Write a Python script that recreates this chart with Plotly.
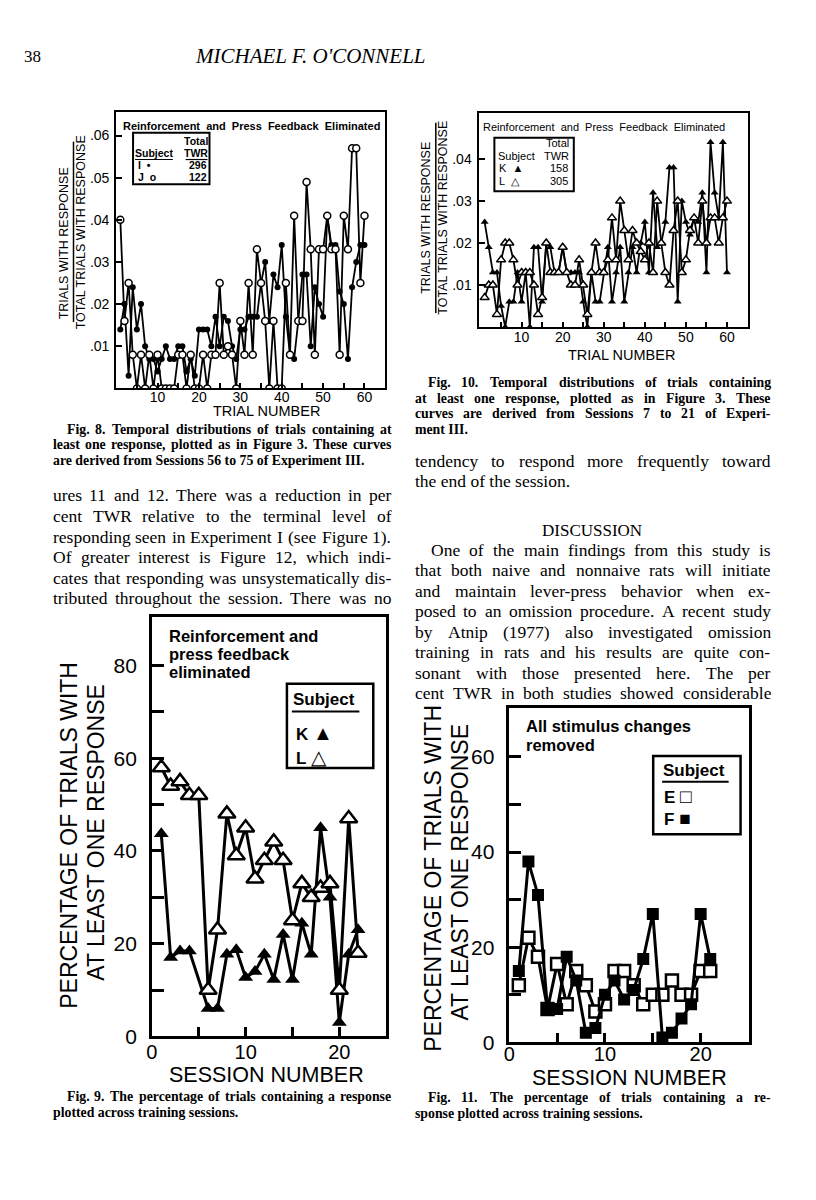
import plotly.graph_objects as go

W, H = 816, 1200
def X(px): return px / W
def Y(py): return 1 - py / H

# ---------------- data ----------------
trials = list(range(1, 61))
fig8_I = [.014, .020, .003, .024, .014, .020, .010, .007, .007, .004,
          .007, .010, .007, .007, .010, .010, .004, .007, .003, .014,
          .014, .014, .010, .017, .010, .017, .016, .010, .007, .014,
          .014, .017, .017, .017, .025, .030, .016, .027, .024, .034,
          .017, .008, .007, .016, .027, .027, .010, .024, .020, .017,
          .041, .034, .034, .023, .020, .007, .024, .030, .034, .034]
fig8_J = [.040, .016, .025, .008, 0, .008, 0, .008, 0, .008,
          0, 0, 0, 0, .008, .008, 0, .008, 0, 0,
          .008, 0, .008, .008, .025, .008, .010, .008, 0, .016,
          .008, .025, .008, .033, .025, .016, 0, .016, 0, 0,
          .025, .008, .041, .016, .016, .049, .033, .008, .033, .033,
          .041, .033, .033, .008, .041, .033, .057, .057, .025, .041]
fig10_K = [.025, .019, .013, .013, .005, 0, .006, .006, .013, .006,
           .013, 0, .019, .019, .006, .020, .019, .013, .013, .019,
           .013, .013, .013, .013, .006, 0, .013, .006, .006, .013,
           .019, .006, .013, .019, .006, .013, .019, .013, .020, .025,
           .013, .032, .019, .020, .025, .038, .038, .006, .030, .025,
           .022, .026, .025, .032, .013, .044, .032, .026, .044, .013]
fig10_L = [.007, .010, .010, .003, .016, .020, .020, .016, .010, .013,
           .013, .013, .010, .003, .007, .020, .013, .013, .013, .019,
           .013, .010, .010, .016, .010, .003, .013, .020, .013, .013,
           .016, .026, .016, .030, .023, .016, .023, .020, .018, .016,
           .020, .013, .030, .020, .013, .010, .023, .030, .013, .016,
           .023, .026, .020, .030, .020, .026, .026, .020, .026, .030]
trial_ticks = [5, 10, 15, 20, 25, 30, 35, 40, 45, 50, 55, 60]
trial_ticktext = ['', '10', '', '20', '', '30', '', '40', '', '50', '', '60']
fig8_yticks = [.01, .02, .03, .04, .05, .06]
fig8_yticktext = ['.01', '.02', '.03', '.04', '.05', '.06']
fig10_yticks = [.01, .02, .03, .04]
fig10_yticktext = ['.01', '.02', '.03', '.04']

sessions9 = list(range(1, 23))
fig9_K = [43.7, 17, 18.4, 18.4, None, 6, 6, 17.7, 18.7, 12.7, 14,
          17.7, 12.3, 22, 12.3, 24.4, 17.7, 45, 30, 3, 17.7, 23]
fig9_L = [58, 54, 55, 52, 52, 10, 23, 48, 39, 45, 34,
          38, 42, 38, 25, 33, 30, 32, 33, 10, 47, 18]
sessions11 = list(range(1, 22))
fig11_E = [12, 22, 18, 7, 16.5, 8, 15, 12, 6.5, 8, 15,
           15, 12, 8, 10, 10, 13, 10, 10, 15, 15]
fig11_F = [15, 38, 31, 7, 7, 18, 13, 2, 3, 10, 13,
           9, 11, 17.5, 27, 1, 2, 5, 8, 27, 17.5]
session_ticks = [0, 5, 10, 15, 20]
session_ticktext = ['0', '', '10', '', '20']
fig9_yticks = [0, 10, 20, 30, 40, 50, 60, 70, 80]
fig9_yticktext = ['0', '', '20', '', '40', '', '60', '', '80']
fig11_yticks = [0, 10, 20, 30, 40, 50, 60]
fig11_yticktext = ['0', '', '20', '', '40', '', '60']

SANS = "Liberation Sans"
SERIF = "Liberation Serif"

fig = go.Figure()

# Fig 8
fig.add_trace(go.Scatter(x=trials, y=fig8_I, mode='lines+markers', xaxis='x', yaxis='y',
                         line=dict(color='black', width=1.8),
                         marker=dict(symbol='circle', size=6, color='black')))
fig.add_trace(go.Scatter(x=trials, y=fig8_J, mode='lines+markers', xaxis='x', yaxis='y',
                         line=dict(color='black', width=1.8),
                         marker=dict(symbol='circle', size=7, color='white',
                                     line=dict(color='black', width=1.5))))
# Fig 10
fig.add_trace(go.Scatter(x=trials, y=fig10_K, mode='lines+markers', xaxis='x2', yaxis='y2',
                         line=dict(color='black', width=1.8),
                         marker=dict(symbol='triangle-up', size=7, color='black')))
fig.add_trace(go.Scatter(x=trials, y=fig10_L, mode='lines+markers', xaxis='x2', yaxis='y2',
                         line=dict(color='black', width=1.8),
                         marker=dict(symbol='triangle-up', size=8, color='white',
                                     line=dict(color='black', width=1.5))))
# Fig 9
fig.add_trace(go.Scatter(x=sessions9, y=fig9_K, mode='lines+markers', xaxis='x3', yaxis='y3',
                         connectgaps=True, line=dict(color='black', width=3),
                         marker=dict(symbol='triangle-up', size=13, color='black')))
fig.add_trace(go.Scatter(x=sessions9, y=fig9_L, mode='lines+markers', xaxis='x3', yaxis='y3',
                         line=dict(color='black', width=3),
                         marker=dict(symbol='triangle-up', size=15, color='white',
                                     line=dict(color='black', width=2.5))))
# Fig 11
fig.add_trace(go.Scatter(x=sessions11, y=fig11_E, mode='lines+markers', xaxis='x4', yaxis='y4',
                         line=dict(color='black', width=3),
                         marker=dict(symbol='square', size=12, color='white',
                                     line=dict(color='black', width=2.5))))
fig.add_trace(go.Scatter(x=sessions11, y=fig11_F, mode='lines+markers', xaxis='x4', yaxis='y4',
                         line=dict(color='black', width=3),
                         marker=dict(symbol='square', size=12, color='black')))

def xax(dom, rng, tv, tt, lw, tlen, fsize, anchor, standoff=0):
    return dict(domain=[X(dom[0]), X(dom[1])], range=rng, anchor=anchor,
                showgrid=False, zeroline=False, showline=True, mirror=True,
                linecolor='black', linewidth=lw, ticks='inside', ticklen=tlen,
                tickwidth=lw, tickcolor='black', tickvals=tv, ticktext=tt,
                ticklabelstandoff=standoff,
                tickfont=dict(family=SANS, size=fsize, color='black'))

def yax(dom, rng, tv, tt, lw, tlen, fsize, anchor, standoff=2):
    return dict(domain=[Y(dom[1]), Y(dom[0])], range=rng, anchor=anchor,
                showgrid=False, zeroline=False, showline=True, mirror=True,
                linecolor='black', linewidth=lw, ticks='inside', ticklen=tlen,
                tickwidth=lw, tickcolor='black', tickvals=tv, ticktext=tt,
                ticklabelstandoff=standoff,
                tickfont=dict(family=SANS, size=fsize, color='black'))

layout = dict(
    width=W, height=H, margin=dict(l=0, r=0, t=0, b=0),
    paper_bgcolor='white', plot_bgcolor='white', showlegend=False,
    xaxis=xax((111, 382), [0, 65], trial_ticks, trial_ticktext, 2, 5, 14, 'y', -5),
    yaxis=yax((113, 392), [0, 0.0656], fig8_yticks, fig8_yticktext, 2, 6, 14, 'x'),
    xaxis2=xax((476, 747), [-0.5, 65], trial_ticks, trial_ticktext, 2, 5, 14, 'y2', -4),
    yaxis2=yax((114, 330), [0, 0.051], fig10_yticks, fig10_yticktext, 2, 6, 14, 'x2'),
    xaxis3=xax((147, 383), [0, 25], session_ticks, session_ticktext, 2.5, 10, 20, 'y3', -4),
    yaxis3=yax((623, 1046), [0, 90.4], fig9_yticks, fig9_yticktext, 2.5, 12, 21, 'x3', 8),
    xaxis4=xax((507, 748), [0, 25], session_ticks, session_ticktext, 2.5, 10, 20, 'y4', -8),
    yaxis4=yax((715, 1052), [0, 70.2], fig11_yticks, fig11_yticktext, 2.5, 12, 21, 'x4', 8),
)
fig.update_layout(**layout)

ann = []
def T(x, y, s, size, family=SANS, xa='center', angle=0, color='black'):
    ann.append(dict(x=X(x), y=Y(y), xref='paper', yref='paper', text=s,
                    showarrow=False, xanchor=xa, yanchor='middle', textangle=angle,
                    borderpad=0, borderwidth=0,
                    font=dict(family=family, size=size, color=color)))

shapes = []
def RECT(x0, y0, x1, y1, w=2):
    shapes.append(dict(type='rect', xref='paper', yref='paper', x0=X(x0), x1=X(x1),
                       y0=Y(y1), y1=Y(y0), line=dict(color='black', width=w)))
def LINE(x0, y0, x1, y1, w=1.5):
    shapes.append(dict(type='line', xref='paper', yref='paper', x0=X(x0), x1=X(x1),
                       y0=Y(y0), y1=Y(y1), line=dict(color='black', width=w)))

# Times-compatible advance widths (per 1000 em) for justified serif text
REG = dict(zip("abcdefghijklmnopqrstuvwxyz",
               [444, 500, 444, 500, 444, 333, 500, 500, 278, 278, 500, 278, 778,
                500, 500, 500, 500, 333, 389, 278, 500, 500, 722, 500, 500, 444]))
REG.update(zip("ABCDEFGHIJKLMNOPQRSTUVWXYZ",
               [722, 667, 667, 722, 611, 556, 722, 722, 333, 389, 722, 611, 889,
                722, 722, 556, 722, 667, 556, 611, 722, 722, 944, 722, 722, 611]))
BLD = dict(zip("abcdefghijklmnopqrstuvwxyz",
               [500, 556, 444, 556, 444, 333, 500, 556, 278, 333, 556, 278, 833,
                556, 500, 556, 556, 444, 389, 333, 556, 500, 722, 500, 500, 444]))
BLD.update(zip("ABCDEFGHIJKLMNOPQRSTUVWXYZ",
               [722, 667, 722, 722, 667, 611, 778, 778, 389, 500, 778, 667, 944,
                722, 778, 611, 778, 722, 556, 667, 722, 722, 1000, 722, 722, 667]))
for d in (REG, BLD):
    d.update({c: 500 for c in "0123456789"})
    d.update({'.': 250, ',': 250, '-': 333, '(': 333, ')': 333, ':': 278, ';': 278, "'": 333})

def wwidth(word, size, bold):
    tb = BLD if bold else REG
    return sum(tb.get(c, 500) for c in word) * size / 1000.0

def JUST(x0, x1, y, line, size, bold=False, last=False):
    if last:
        s = "<b>%s</b>" % line if bold else line
        T(x0, y, s, size, SERIF, 'left')
        return
    words = line.split()
    ws = [wwidth(w, size, bold) for w in words]
    gap = (x1 - x0 - sum(ws)) / (len(words) - 1)
    x = x0
    for w, wd in zip(words, ws):
        s = "<b>%s</b>" % w if bold else w
        T(x, y, s, size, SERIF, 'left')
        x += wd + gap

# header
T(27, 57, "38", 17, SERIF)
T(307, 57, "<i>MICHAEL F. O'CONNELL</i>", 21, SERIF)

CAP = 13.8
BODY = 17.5

# ---- Fig 8 ----
T(247, 127, "<b>Reinforcement  and  Press  Feedback  Eliminated</b>", 11, SANS)
RECT(128, 134, 205, 186, 2)
T(203, 142, "<b>Total</b>", 10.5, SANS, 'right')
T(130, 154.5, "<b>Subject</b>", 10.5, SANS, 'left')
T(203, 154.5, "<b>TWR</b>", 10.5, SANS, 'right')
LINE(130, 161, 168, 161, 1.2)
LINE(181, 161, 203, 161, 1.2)
T(133, 167, "<b>I  •</b>", 10.5, SANS, 'left')
T(202, 167, "<b>296</b>", 10.5, SANS, 'right')
T(133, 179, "<b>J  o</b>", 10.5, SANS, 'left')
T(202, 179, "<b>122</b>", 10.5, SANS, 'right')
T(58, 246, "TRIALS WITH RESPONSE", 12.5, SANS, angle=-90)
LINE(68, 143, 68, 325, 1.5)
T(75, 234, "TOTAL TRIALS WITH RESPONSE", 12.5, SANS, angle=-90)
T(262, 415, "TRIAL NUMBER", 14.5, SANS)
JUST(61, 388, 433, "Fig. 8. Temporal distributions of trials containing at", CAP, True)
JUST(47, 388, 449, "least one response, plotted as in Figure 3. These curves", CAP, True)
JUST(47, 388, 465, "are derived from Sessions 56 to 75 of Experiment III.", CAP, True, last=True)

left_body = ["ures 11 and 12. There was a reduction in per",
             "cent TWR relative to the terminal level of",
             "responding seen in Experiment I (see Figure 1).",
             "Of greater interest is Figure 12, which indi-",
             "cates that responding was unsystematically dis-",
             "tributed throughout the session. There was no"]
for i, s in enumerate(left_body):
    JUST(47, 388, 500 + 20.8 * i, s, BODY)

# ---- Fig 10 ----
T(602, 128, "Reinforcement  and  Press  Feedback  Eliminated", 11, SANS)
RECT(492, 139, 572, 193, 2)
T(567, 144, "Total", 11, SANS, 'right')
T(496, 157, "Subject", 11, SANS, 'left')
T(567, 157, "TWR", 11, SANS, 'right')
T(497, 170, "K  ▲", 11, SANS, 'left')
T(566, 170, "158", 11, SANS, 'right')
T(497, 183, "L  △", 11, SANS, 'left')
T(566, 183, "305", 11, SANS, 'right')
T(423, 220, "TRIALS WITH RESPONSE", 12.5, SANS, angle=-90)
LINE(433, 124, 433, 316, 1.5)
T(440, 220, "TOTAL TRIALS WITH RESPONSE", 12.5, SANS, angle=-90)
T(620, 358, "TRIAL NUMBER", 14.5, SANS)
JUST(425, 770, 386.5, "Fig. 10. Temporal distributions of trials containing", CAP, True)
JUST(412, 770, 402, "at least one response, plotted as in Figure 3. These", CAP, True)
JUST(412, 770, 417.5, "curves are derived from Sessions 7 to 21 of Experi-", CAP, True)
JUST(412, 770, 433, "ment III.", CAP, True, last=True)

JUST(412, 770, 465, "tendency to respond more frequently toward", BODY)
JUST(412, 770, 485, "the end of the session.", BODY, last=True)
T(590, 535, "DISCUSSION", 17, SERIF)
right_body = ["One of the main findings from this study is",
              "that both naive and nonnaive rats will initiate",
              "and maintain lever-press behavior when ex-",
              "posed to an omission procedure. A recent study",
              "by Atnip (1977) also investigated omission",
              "training in rats and his results are quite con-",
              "sonant with those presented here. The per",
              "cent TWR in both studies showed considerable"]
for i, s in enumerate(right_body):
    JUST(428 if i == 0 else 412, 770, 555 + 20.7 * i, s, BODY)

# ---- Fig 9 ----
T(164, 641.5, "<b>Reinforcement and</b>", 16.5, SANS, 'left')
T(164, 660, "<b>press feedback</b>", 16.5, SANS, 'left')
T(164, 678.5, "<b>eliminated</b>", 16.5, SANS, 'left')
RECT(283, 690, 370, 775, 2.5)
T(289, 706, "<b>Subject</b>", 17, SANS, 'left')
LINE(288, 718, 356, 718, 2)
T(292, 740, "<b>K</b> <span style='font-size:20px'>▲</span>", 17, SANS, 'left')
T(292, 763.5, "<b>L</b> <span style='font-size:20px'>△</span>", 17, SANS, 'left')
T(64, 843, "PERCENTAGE OF TRIALS WITH", 23, SANS, angle=-90)
T(91, 840, "AT LEAST ONE RESPONSE", 23, SANS, angle=-90)
T(262, 1085, "SESSION NUMBER", 21.5, SANS)
JUST(61, 388, 1107, "Fig. 9. The percentage of trials containing a response", CAP, True)
JUST(47, 388, 1123, "plotted across training sessions.", CAP, True, last=True)

# ---- Fig 11 ----
T(524, 733, "<b>All stimulus changes</b>", 16.5, SANS, 'left')
T(524, 752, "<b>removed</b>", 16.5, SANS, 'left')
RECT(652, 763, 740, 842, 2.5)
T(662, 778, "<b>Subject</b>", 17, SANS, 'left')
LINE(661, 789, 728, 789, 2)
T(663, 804, "<b>E</b> <span style='font-size:19px'>□</span>", 17, SANS, 'left')
T(663, 826.5, "<b>F</b> <span style='font-size:19px'>■</span>", 17, SANS, 'left')
T(430, 886, "PERCENTAGE OF TRIALS WITH", 23, SANS, angle=-90)
T(457, 880, "AT LEAST ONE RESPONSE", 23, SANS, angle=-90)
T(628, 1087.5, "SESSION NUMBER", 21.5, SANS)
JUST(425, 770, 1108, "Fig. 11. The percentage of trials containing a re-", CAP, True)
JUST(412, 770, 1124, "sponse plotted across training sessions.", CAP, True, last=True)

fig.update_layout(annotations=ann, shapes=shapes)
fig.write_html(
    "out.html",
    config={'displayModeBar': False},
    post_script=("var de=document.documentElement,b=document.body;"
                 "de.style.margin='0';de.style.padding='0';de.style.overflow='hidden';"
                 "b.style.margin='0';b.style.padding='0';b.style.overflow='hidden';"),
)
